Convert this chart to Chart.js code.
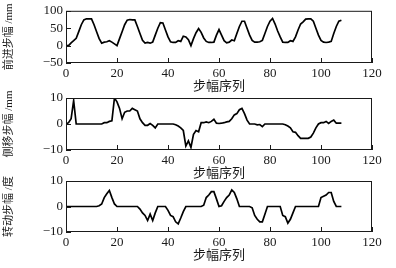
<!DOCTYPE html>
<html>
<head>
<meta charset="utf-8">
<script src="https://cdn.jsdelivr.net/npm/chart.js@4.4.1/dist/chart.umd.min.js"></script>
<style>
html, body { margin: 0; padding: 0; background: #fff; }
#wrap { position: relative; width: 396px; height: 268px; }
canvas { position: absolute; left: 0; top: 0; }
</style>
</head>
<body>
<div id="wrap">
    <canvas id="forwardChart" width="396" height="268"></canvas>
    <canvas id="lateralChart" width="396" height="268"></canvas>
    <canvas id="turnChart" width="396" height="268"></canvas>
</div>
<script>
// step values, one per step 0..108
const forwardStep = [
    0, 0, 8, 14, 21, 40, 60, 74, 77, 77,
    77, 60, 40, 20, 7, 10, 11, 14, 10, 5,
    0, 20, 40, 60, 73, 75, 74, 74, 55, 35,
    15, 7, 9, 7, 10, 30, 50, 66, 65, 45,
    25, 11, 9, 9, 14, 12, 27, 25, 17, 0,
    20, 37, 49, 38, 22, 12, 9, 9, 10, 30,
    46, 30, 14, 8, 10, 16, 14, 35, 55, 70,
    70, 50, 30, 15, 10, 10, 11, 15, 35, 55,
    70, 78, 62, 42, 25, 10, 9, 9, 14, 12,
    25, 45, 62, 68, 76, 77, 77, 70, 50, 30,
    15, 10, 9, 10, 12, 35, 55, 70, 73
];
const lateralStep = [
    0, 0.5, 2, 9, 0, 0, 0, 0, 0, 0,
    0, 0, 0, 0, 0, 0.5, 0.5, 1, 1.2, 10,
    8.5, 6, 2, 4.5, 5, 5, 6, 5.5, 5, 2,
    0.5, -0.5, -0.5, 0.2, -0.5, -1.5, 0, 0, 0, 0,
    0, 0, 0, -0.3, -0.8, -1.5, -2.5, -8.5, -6.5, -9,
    -4, -2.5, -3, 0.5, 0.5, 0.8, 0.5, 1, 1.8, 0.3,
    0.2, 0.3, 0.5, 0.8, 1, 2, 3.5, 4, 5.5, 6,
    4, 1.5, 0, 0, 0, -0.3, -0.2, -1, 0, 0,
    0, 0, 0, 0, 0, 0, -0.3, -0.8, -1.5, -3,
    -3.2, -4.5, -5.5, -5.5, -5.5, -5.5, -5, -3.5, -1.5, 0,
    0.5, 0.5, 1, 0.2, 1, 1.5, 0.3, 0.3, 0.3
];
const turnStep = [
    0, 0, 0, 0, 0, 0, 0, 0, 0, 0,
    0, 0, 0, 0.3, 1, 3.5, 5, 6.3, 3.5, 1,
    0, 0, 0, 0, 0, 0, 0, 0, 0, -1,
    -2.5, -3.5, -5.5, -3, -5.5, -2.5, 0, 0, 0, 0,
    -1.5, -3.5, -4, -6, -6.8, -4.5, -2, 0, 0, 0,
    0, 0, 0, 0, 0.5, 3.5, 4.5, 5.8, 5.8, 3,
    0, 0.3, 2, 3.5, 4.5, 6.5, 5.5, 3, 0, 0,
    0, 0, 0, -0.5, -3.5, -5, -6, -6, -3, 0,
    0, 0, 0, 0, 0, -3.5, -4, -6.5, -5, -2.5,
    0, 0, 0, 0, 0, 0, 0, 0, 0, 0,
    3.5, 4, 4.5, 5.5, 5.5, 2, 0, 0, 0
];
const xTitle = '步幅序列';
const yTitles = ['前进步幅 /mm', '侧移步幅 /mm', '转动步幅 /度'];

const INK = '#1a1a1a';
const FAMILY = '"Liberation Serif", "Noto Sans CJK SC", serif';

// box around the plot plus inward tick marks (bottom and left only)
const framePlugin = {
    id: 'frame',
    afterDraw(chart) {
        const { ctx, chartArea: a, scales } = chart;
        ctx.save();
        ctx.strokeStyle = INK;
        ctx.lineWidth = 1;
        ctx.strokeRect(a.left + 0.5, a.top + 0.5, a.right - a.left - 1, a.bottom - a.top - 1);
        ctx.beginPath();
        scales.x.ticks.forEach(t => {
            const px = Math.round(scales.x.getPixelForValue(t.value)) + 0.5;
            ctx.moveTo(px, a.bottom);
            ctx.lineTo(px, a.bottom - 5);
        });
        scales.y.ticks.forEach(t => {
            const py = Math.round(scales.y.getPixelForValue(t.value)) + 0.5;
            ctx.moveTo(a.left, py);
            ctx.lineTo(a.left + 5, py);
        });
        ctx.stroke();
        ctx.restore();
    }
};

function minusSign(value) {
    return String(value).replace('-', '\u2212');
}

function makeChart(id, values, yMin, yMax, yStep, yTitle, padTop, padBottom) {
    const ctx = document.getElementById(id).getContext('2d');
    return new Chart(ctx, {
        type: 'line',
        data: {
            datasets: [{
                data: values.map((v, i) => ({ x: i, y: v })),
                borderColor: '#000',
                borderWidth: 1.7,
                pointRadius: 0,
                tension: 0,
                fill: false
            }]
        },
        options: {
            responsive: false,
            animation: false,
            events: [],
            layout: { padding: { left: 0, right: 24, top: padTop, bottom: padBottom } },
            plugins: {
                legend: { display: false },
                tooltip: { enabled: false }
            },
            scales: {
                x: {
                    type: 'linear',
                    min: 0,
                    max: 120,
                    grid: { display: false, drawTicks: false },
                    border: { display: false },
                    ticks: {
                        stepSize: 20,
                        padding: 3,
                        maxRotation: 0,
                        autoSkip: false,
                        color: INK,
                        font: { family: FAMILY, size: 13 }
                    },
                    title: {
                        display: true,
                        text: xTitle,
                        color: INK,
                        padding: 0,
                        font: { family: FAMILY, size: 13 }
                    },
                    afterFit: s => { s.height = 31; }
                },
                y: {
                    min: yMin,
                    max: yMax,
                    grid: { display: false, drawTicks: false },
                    border: { display: false },
                    ticks: {
                        stepSize: yStep,
                        padding: 3,
                        autoSkip: false,
                        color: INK,
                        font: { family: FAMILY, size: 13 },
                        callback: minusSign
                    },
                    title: {
                        display: true,
                        text: yTitle,
                        color: INK,
                        padding: { top: 3, bottom: 0 },
                        font: { family: FAMILY, size: 11 }
                    },
                    afterFit: s => { s.width = 66; }
                }
            }
        },
        plugins: [framePlugin]
    });
}

makeChart('forwardChart', forwardStep, -50, 100, 50, yTitles[0], 10, 174);
makeChart('lateralChart', lateralStep, -10, 10, 10, yTitles[1], 98, 87);
makeChart('turnChart', turnStep, -10, 10, 10, yTitles[2], 181, 5);
</script>
</body>
</html>
